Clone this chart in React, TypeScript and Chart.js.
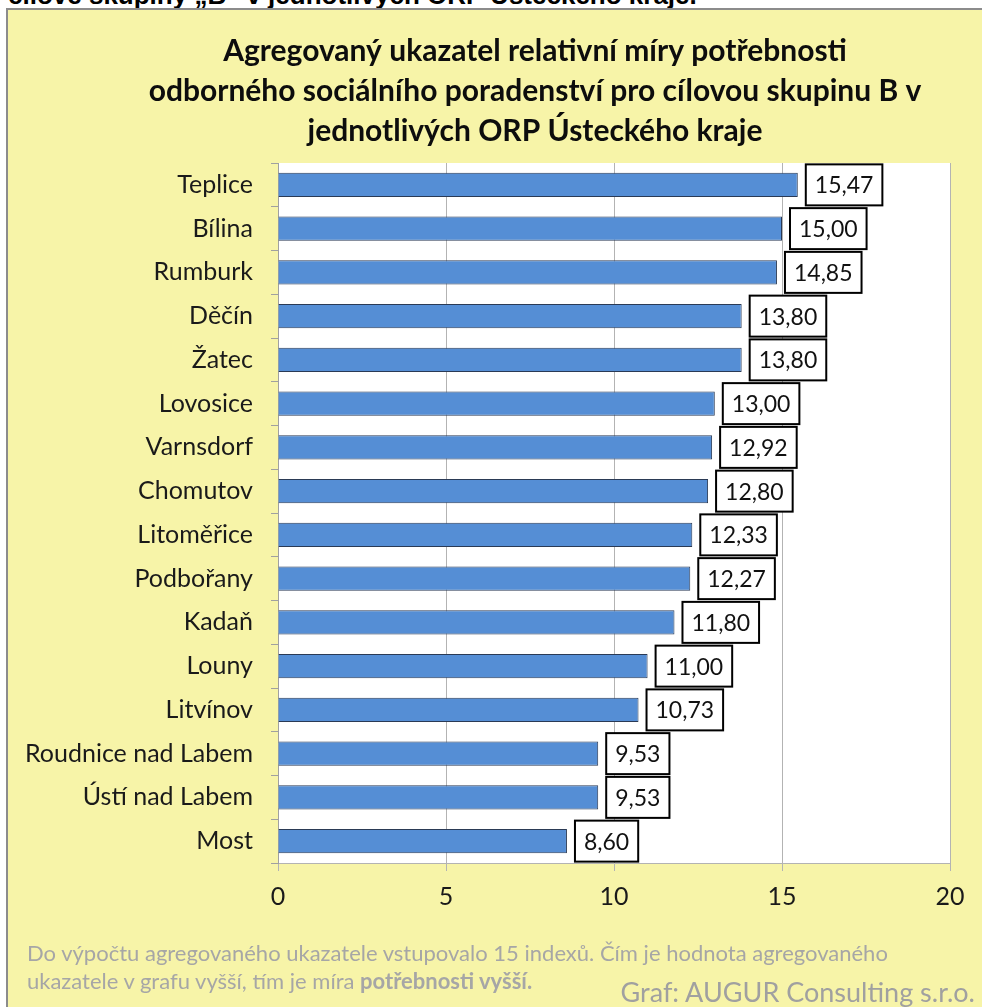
import React, { useEffect, useRef } from "react";
import { Chart, registerables } from "chart.js";

Chart.register(...registerables);

const categories = [
  "Teplice",
  "Bílina",
  "Rumburk",
  "Děčín",
  "Žatec",
  "Lovosice",
  "Varnsdorf",
  "Chomutov",
  "Litoměřice",
  "Podbořany",
  "Kadaň",
  "Louny",
  "Litvínov",
  "Roudnice nad Labem",
  "Ústí nad Labem",
  "Most",
];

const values = [15.47, 15.0, 14.85, 13.8, 13.8, 13.0, 12.92, 12.8, 12.33, 12.27, 11.8, 11.0, 10.73, 9.53, 9.53, 8.6];

const xTicks = [0, 5, 10, 15, 20];

const titleLines = [
  "Agregovaný ukazatel relativní míry potřebnosti",
  "odborného sociálního poradenství pro cílovou skupinu B v",
  "jednotlivých ORP Ústeckého kraje",
];

const headingText = "cílové skupiny „B“ v jednotlivých ORP Ústeckého kraje.";
const noteLine1 = "Do výpočtu agregovaného ukazatele vstupovalo  15 indexů. Čím je hodnota agregovaného";
const noteLine2a = "ukazatele v grafu vyšší, tím je míra ";
const noteLine2b = "potřebnosti vyšší.";
const creditText = "Graf: AUGUR Consulting s.r.o.";

const FONT = "Lato, 'Open Sans', sans-serif";

const fmt = (v: number) => v.toFixed(2).replace(".", ",");

export default function App() {
  const canvasRef = useRef<HTMLCanvasElement | null>(null);

  useEffect(() => {
    const canvas = canvasRef.current;
    if (!canvas) return;

    const whiteArea = {
      id: "whiteArea",
      beforeDraw(chart: any) {
        const { ctx, chartArea } = chart;
        ctx.save();
        ctx.fillStyle = "#ffffff";
        ctx.fillRect(chartArea.left, chartArea.top, chartArea.right - chartArea.left, chartArea.bottom - chartArea.top);
        ctx.restore();
      },
    };

    const valueBoxes = {
      id: "valueBoxes",
      afterDatasetsDraw(chart: any) {
        const { ctx } = chart;
        const meta = chart.getDatasetMeta(0);
        ctx.save();
        ctx.font = `23px ${FONT}`;
        meta.data.forEach((bar: any, i: number) => {
          const txt = fmt(values[i]);
          const w = ctx.measureText(txt).width + 18;
          const h = 41;
          const x0 = bar.x + 8;
          const y0 = bar.y - h / 2;
          ctx.fillStyle = "#ffffff";
          ctx.fillRect(x0, y0, w, h);
          ctx.lineWidth = 2;
          ctx.strokeStyle = "#000000";
          ctx.strokeRect(x0, y0, w, h);
          ctx.fillStyle = "#111111";
          ctx.textAlign = "center";
          ctx.textBaseline = "middle";
          ctx.fillText(txt, x0 + w / 2, bar.y + 1);
        });
        ctx.restore();
      },
    };

    const chart = new Chart(canvas, {
      type: "bar",
      data: {
        labels: categories,
        datasets: [
          {
            data: values,
            backgroundColor: "#558ED5",
            borderColor: "#2a3a55",
            borderWidth: 1,
            categoryPercentage: 1,
            barPercentage: 0.55,
          },
        ],
      },
      options: {
        indexAxis: "y",
        animation: false,
        responsive: false,
        devicePixelRatio: 1,
        layout: { padding: { top: 0, left: 0, right: 0, bottom: 84 } },
        plugins: {
          legend: { display: false },
          tooltip: { enabled: false },
          title: {
            display: true,
            text: titleLines,
            color: "#0d0d0d",
            font: { family: FONT, size: 30, weight: "bold", lineHeight: 40 / 30 },
            padding: { top: 21, bottom: 12 },
          },
        },
        scales: {
          x: {
            type: "linear",
            min: 0,
            max: 20,
            afterBuildTicks: (s: any) => {
              s.ticks = xTicks.map((v) => ({ value: v }));
            },
            ticks: { font: { family: FONT, size: 25 }, color: "#1a1a1a", padding: 11 },
            grid: { color: "#b3b3b3", lineWidth: 1, tickLength: 8, drawTicks: true },
            border: { color: "#b3b3b3" },
            afterFit: (s: any) => {
              s.height = 60;
            },
          },
          y: {
            type: "category",
            position: "left",
            ticks: { font: { family: FONT, size: 25 }, color: "#1a1a1a", padding: 18 },
            grid: { drawOnChartArea: false, tickLength: 7, color: "#a0a0a0", offset: true },
            border: { color: "#a0a0a0" },
            afterFit: (s: any) => {
              s.width = 270;
            },
          },
          pad: {
            type: "linear",
            position: "right",
            display: true,
            grid: { display: false },
            ticks: { display: false },
            border: { display: false },
            afterFit: (s: any) => {
              s.width = 112;
            },
          },
        },
      } as any,
      plugins: [whiteArea, valueBoxes],
    });

    return () => chart.destroy();
  }, []);

  return (
    <div
      style={{
        position: "absolute",
        left: 0,
        top: 0,
        width: 982,
        height: 1007,
        overflow: "hidden",
        background: "#ffffff",
        fontFamily: FONT,
      }}
    >
      <div
        style={{
          position: "absolute",
          left: 8,
          top: -20,
          whiteSpace: "nowrap",
          fontFamily: "'Liberation Sans', Arial, sans-serif",
          fontWeight: "bold",
          fontSize: 26,
          lineHeight: "30px",
          color: "#000",
        }}
      >
        {headingText}
      </div>
      <div
        style={{
          position: "absolute",
          left: 6,
          top: 8,
          width: 1070,
          height: 1020,
          boxSizing: "border-box",
          border: "2px solid #8c8c8c",
          background: "#F7F4A8",
        }}
      />
      <canvas
        ref={canvasRef}
        width={1054}
        height={997}
        style={{ position: "absolute", left: 8, top: 10, width: 1054, height: 997 }}
      />
      <div
        style={{
          position: "absolute",
          left: 27,
          top: 939,
          whiteSpace: "nowrap",
          fontSize: 22,
          lineHeight: "28px",
          color: "#a6a6a6",
        }}
      >
        <div>{noteLine1}</div>
        <div>
          {noteLine2a}
          <b>{noteLine2b}</b>
        </div>
      </div>
      <div
        style={{
          position: "absolute",
          right: 7,
          top: 976,
          whiteSpace: "nowrap",
          fontSize: 27,
          lineHeight: "32px",
          color: "#a0a0a0",
        }}
      >
        {creditText}
      </div>
    </div>
  );
}
